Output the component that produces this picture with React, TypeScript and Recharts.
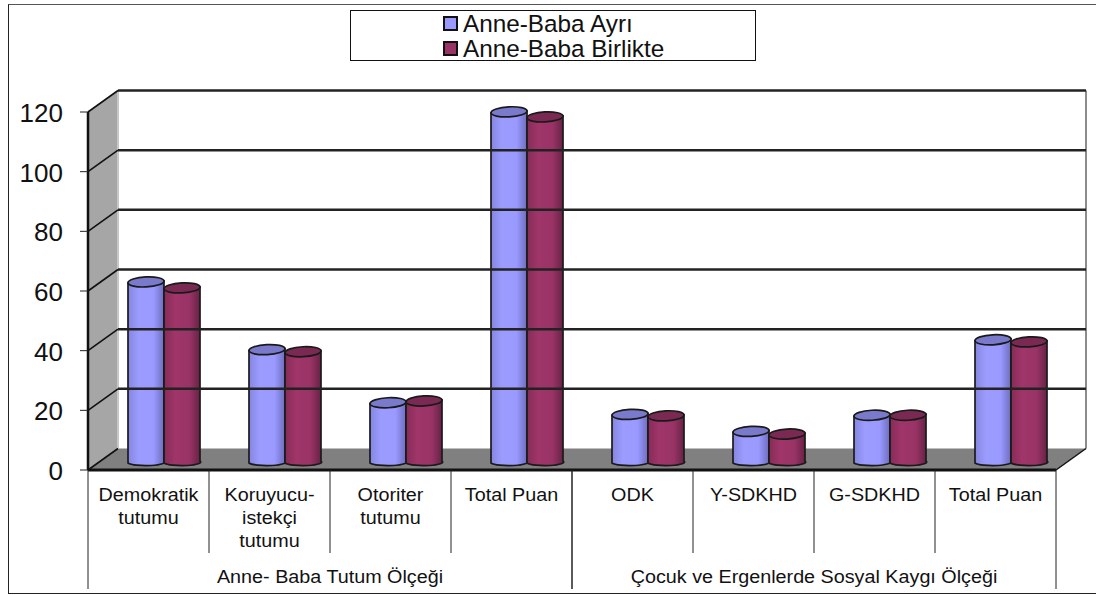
import React from "react";
import { BarChart, Bar, XAxis, YAxis, Legend, ReferenceArea, ReferenceLine } from "recharts";

const categories = ["Demokratik tutumu", "Koruyucu- istekçi tutumu", "Otoriter tutumu", "Total Puan", "ODK", "Y-SDKHD", "G-SDKHD", "Total Puan"];
const categoryLines = [["Demokratik", "tutumu"], ["Koruyucu-", "istekçi", "tutumu"], ["Otoriter", "tutumu"], ["Total Puan"], ["ODK"], ["Y-SDKHD"], ["G-SDKHD"], ["Total Puan"]];
const groupNames = ["Anne- Baba Tutum Ölçeği", "Çocuk ve Ergenlerde Sosyal Kaygı Ölçeği"];
const ayri = [60.7, 38, 20.2, 117.7, 16.3, 10.6, 16, 41.3];
const birlikte = [58.7, 37.3, 20.8, 116, 15.8, 9.7, 16, 40.6];
const yTicks = [0, 20, 40, 60, 80, 100, 120];
const seriesNames = ["Anne-Baba Ayrı", "Anne-Baba Birlikte"];
const seriesColors = ["#9999ff", "#993366"];

const data = categories.map((c, i) => ({ key: i, name: c, a: ayri[i], b: birlikte[i] }));

const FONT = "'Liberation Sans', Arial, sans-serif";
const W = 1096, H = 595;
const L = 88, R = 1056, T = 112, B = 470;
const BAND = (R - L) / categories.length;
const DX = 30, DY = 21.5;

function Cylinder(props: any) {
  const { x: x0, y, width, height, tiltId, topFill } = props;
  const x = x0 + 15;
  const rx = width / 2, ry = 5;
  const cx = x + rx;
  const t = y - 7;
  const b = y + height - 8;
  const tilt = -1;
  return (
    <g>
      <path
        d={`M${x} ${t - tilt} L${x} ${b - tilt} A${rx} 3.5 0 0 0 ${x + width} ${b + tilt} L${x + width} ${t + tilt} Z`}
        fill={`url(#${tiltId})`}
        stroke="#1a1a1a"
        strokeWidth={1.7}
      />
      <ellipse cx={cx} cy={t} rx={rx} ry={ry} fill={topFill} stroke="#1a1a1a" strokeWidth={1.7} transform={`rotate(-3 ${cx} ${t})`} />
    </g>
  );
}

function Walls(props: any) {
  const { x, y, width, height } = props;
  const x2 = x + width, y2 = y + height;
  return (
    <g>
      <polygon points={`${x},${y} ${x + DX},${y - DY} ${x + DX},${y2 - DY} ${x},${y2}`} fill="#a6a6a6" />
      <rect x={x + DX} y={y - DY} width={width} height={height} fill="#fff" />
      <polygon points={`${x},${y2} ${x + DX},${y2 - DY} ${x2 + DX},${y2 - DY} ${x2},${y2}`} fill="#808080" />
      <line x1={x + DX} y1={y - DY} x2={x + DX} y2={y2 - DY} stroke="#c8c8c8" strokeWidth={2} />
      <line x1={x2 + DX} y1={y - DY} x2={x2 + DX} y2={y2 - DY} stroke="#8c8c8c" strokeWidth={2} />
      <line x1={x2} y1={y2} x2={x2 + DX} y2={y2 - DY} stroke="#111" strokeWidth={1.5} />
    </g>
  );
}

function GridLine(props: any) {
  const { x1, x2, y1 } = props;
  const isFloor = y1 >= B - 0.5;
  return (
    <g>
      <line x1={x1} y1={y1} x2={x1 + DX} y2={y1 - DY} stroke="#111" strokeWidth={1.6} />
      {!isFloor && <line x1={x1 + DX} y1={y1 - DY} x2={x2 + DX} y2={y1 - DY} stroke="#222" strokeWidth={2.5} />}
    </g>
  );
}

function CategoryTick(props: any) {
  const { x, index } = props;
  const lines = categoryLines[index];
  const right = x + BAND / 2;
  const left = x - BAND / 2;
  const groupStart = index % 4 === 0;
  const groupEnd = index % 4 === 3;
  return (
    <g>
      {groupStart && <line x1={left} y1={B} x2={left} y2={589} stroke="#222" strokeWidth={1} />}
      <line x1={right} y1={B} x2={right} y2={groupEnd ? 589 : 553} stroke="#222" strokeWidth={1} />
      {lines.map((ln: string, i: number) => (
        <text key={i} transform={`translate(${x} ${501 + i * 23}) scale(1.08 1)`} textAnchor="middle" fontFamily={FONT} fontSize={18.3} fill="#111">{ln}</text>
      ))}
      {groupStart && (
        <text transform={`translate(${left + BAND * 2} 583) scale(1.08 1)`} textAnchor="middle" fontFamily={FONT} fontSize={18.3} fill="#111">
          {groupNames[index / 4]}
        </text>
      )}
    </g>
  );
}

function ValueTick(props: any) {
  const { y, payload } = props;
  return (
    <g>
      <line x1={80} y1={y} x2={L} y2={y} stroke="#222" strokeWidth={1} />
      <text x={63} y={y + 10} textAnchor="end" fontFamily={FONT} fontSize={26} fill="#111">{payload.value}</text>
    </g>
  );
}

function LegendBox() {
  return (
    <div style={{ boxSizing: "border-box", width: 406, height: 51, border: "1px solid #111", background: "#fff", position: "relative", fontFamily: FONT, fontSize: 24.3, color: "#111" }}>
      {seriesNames.map((n, i) => (
        <div key={n} style={{ position: "absolute", left: 92, top: 1 + i * 25, height: 24, lineHeight: "24px", whiteSpace: "nowrap" }}>
          <span style={{ position: "absolute", left: 0, top: 4, width: 15, height: 15, boxSizing: "border-box", border: "2px solid #111", background: seriesColors[i] }} />
          <span style={{ marginLeft: 20 }}>{n}</span>
        </div>
      ))}
    </div>
  );
}

export default function App() {
  return (
    <div style={{ position: "absolute", left: 0, top: 0, width: W, height: H, background: "#fff" }}>
      <div style={{ position: "absolute", left: 8, top: 4, width: 1088, height: 590, boxSizing: "border-box", borderLeft: "1.5px solid #222", borderTop: "1.5px solid #555", borderBottom: "1.5px solid #222" }} />
      <div style={{ position: "absolute", left: 0, top: 0 }}>
        <BarChart
          width={W}
          height={H}
          data={data}
          margin={{ left: 28, right: W - R, top: T, bottom: 0 }}
          barSize={36}
          barGap={0}
          style={{ background: "transparent" }}
        >
          <defs>
            <linearGradient id="gradA" x1="0" y1="0" x2="1" y2="0">
              <stop offset="0" stopColor="#8585e0" />
              <stop offset="0.3" stopColor="#9c9cff" />
              <stop offset="0.7" stopColor="#9999ff" />
              <stop offset="1" stopColor="#6a6ab8" />
            </linearGradient>
            <linearGradient id="gradB" x1="0" y1="0" x2="1" y2="0">
              <stop offset="0" stopColor="#852c58" />
              <stop offset="0.3" stopColor="#a03569" />
              <stop offset="0.7" stopColor="#993366" />
              <stop offset="1" stopColor="#642143" />
            </linearGradient>
          </defs>
          <ReferenceArea y1={0} y2={120} shape={<Walls />} ifOverflow="visible" />
          {yTicks.map((v) => (
            <ReferenceLine key={v} y={v} shape={<GridLine />} ifOverflow="visible" />
          ))}
          <XAxis dataKey="key" height={125} interval={0} axisLine={{ stroke: "#111", strokeWidth: 3 }} tickLine={false} tick={<CategoryTick />} />
          <YAxis width={60} domain={[0, 120]} ticks={yTicks} axisLine={{ stroke: "#111", strokeWidth: 2.5 }} tickLine={false} tick={<ValueTick />} />
          <Legend layout="horizontal" verticalAlign="middle" content={<LegendBox />} wrapperStyle={{ left: 350, top: 10, width: 406, height: 51 }} />
          <Bar dataKey="a" name={seriesNames[0]} fill={seriesColors[0]} isAnimationActive={false} shape={<Cylinder tiltId="gradA" topFill="#7a7acc" />} />
          <Bar dataKey="b" name={seriesNames[1]} fill={seriesColors[1]} isAnimationActive={false} shape={<Cylinder tiltId="gradB" topFill="#7a2952" />} />
        </BarChart>
      </div>
    </div>
  );
}
